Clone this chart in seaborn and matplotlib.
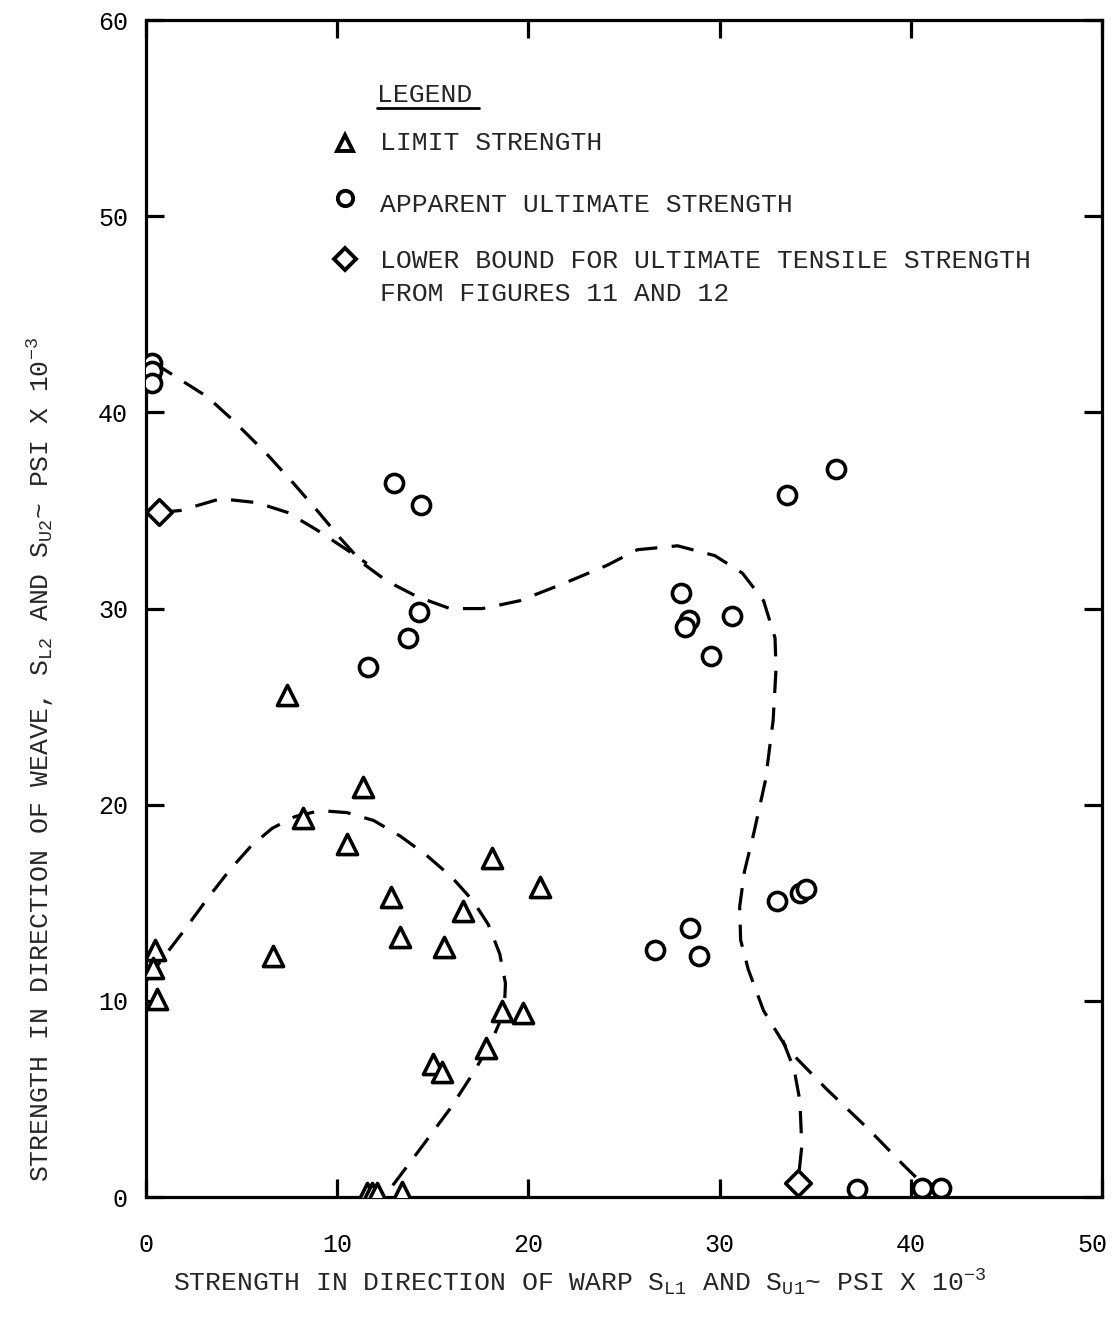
import numpy as np
import pandas as pd
import matplotlib
matplotlib.use("Agg")
import matplotlib.pyplot as plt
import matplotlib.transforms as mtransforms
import seaborn as sns

# ---- measured strengths (ksi) ----
limit_x = [7.4, 11.35, 8.2, 10.5, 18.1, 20.6, 12.8, 16.6, 13.3, 15.6, 6.65,
           0.45, 0.35, 0.6, 18.6, 19.7, 17.8, 15.0, 15.5, 11.55, 11.8, 12.1, 13.4]
limit_y = [25.6, 20.9, 19.3, 18.0, 17.3, 15.8, 15.3, 14.6, 13.25, 12.75, 12.3,
           12.6, 11.7, 10.1, 9.5, 9.4, 7.6, 6.8, 6.4, 0.2, 0.2, 0.2, 0.25]

ult_x = [0.3, 0.3, 0.3, 12.95, 14.4, 14.3, 13.7, 11.6, 33.5, 36.1, 28.0, 28.4,
         28.2, 30.65, 29.55, 26.6, 28.45, 28.9, 33.0, 34.2, 34.5, 37.2, 40.6, 41.6]
ult_y = [42.5, 42.1, 41.5, 36.4, 35.3, 29.8, 28.5, 27.0, 35.8, 37.1, 30.8, 29.4,
         29.05, 29.6, 27.6, 12.6, 13.7, 12.3, 15.1, 15.5, 15.7, 0.4, 0.45, 0.45]

bound_x = [0.7, 34.1]
bound_y = [34.9, 0.7]

# ---- faired envelope curves ----
inner_x = [0.05, 0.9, 2.0, 3.2, 4.4, 5.5, 6.6, 7.8, 9.1, 10.5, 11.9, 13.3, 14.7,
           16.0, 17.1, 17.9, 18.5, 18.8, 18.75, 18.45, 18.0, 17.1, 15.9, 14.3, 12.6]
inner_y = [11.06, 12.2, 13.6, 15.2, 16.7, 17.9, 18.8, 19.4, 19.7, 19.6, 19.2,
           18.4, 17.4, 16.3, 15.1, 13.9, 12.4, 10.9, 9.8, 8.8, 7.8, 6.3, 4.5, 2.4, 0.2]

outer_x = [0.37, 3.2, 4.55, 6.3, 7.7, 8.95, 10.15, 11.35, 12.6, 14.2, 15.9, 17.6,
           19.55, 21.9, 24.1, 25.7, 27.8, 29.75, 31.2, 32.3, 32.9, 32.95, 32.8,
           32.4, 31.8, 31.3, 31.05, 31.1, 31.5, 32.3, 33.5, 35.6, 37.8, 39.6, 40.7]
outer_y = [42.55, 40.8, 39.6, 37.9, 36.4, 35.0, 33.6, 32.3, 31.4, 30.6, 30.0, 30.0,
           30.4, 31.3, 32.2, 33.0, 33.2, 32.7, 31.8, 30.4, 28.5, 26.9, 24.3,
           21.25, 18.6, 16.6, 14.8, 13.1, 11.6, 9.5, 7.6, 5.5, 3.45, 1.65, 0.6]

branch_x = [33.3, 33.9, 34.2, 34.3, 34.15]
branch_y = [8.0, 6.5, 4.9, 2.6, 1.2]

upper_x = [0.7, 1.8, 3.9, 5.8, 7.4, 8.95, 10.5, 11.55]
upper_y = [34.9, 35.0, 35.6, 35.4, 34.9, 34.0, 33.0, 32.3]

x_ticks = [0, 10, 20, 30, 40, 50]
y_ticks = [0, 10, 20, 30, 40, 50, 60]

sns.set_theme(style="ticks")
mono = "Liberation Mono"
plt.rcParams["font.family"] = [mono, "DejaVu Sans"]
plt.rcParams["mathtext.fontset"] = "custom"
plt.rcParams["mathtext.rm"] = mono
plt.rcParams["mathtext.it"] = mono
plt.rcParams["mathtext.bf"] = mono

LW = 2.3
fig = plt.figure(figsize=(11.12, 13.39), dpi=100)
ax = fig.add_axes([0.1313, 0.106, 0.8597, 0.879])

dash = (0, (7, 4.5))
for cx, cy in [(inner_x, inner_y), (outer_x, outer_y),
               (branch_x, branch_y), (upper_x, upper_y)]:
    df = pd.DataFrame({"x": cx, "y": cy})
    sns.lineplot(data=df, x="x", y="y", sort=False, estimator=None, ax=ax,
                 color="black", lw=LW, linestyle=dash)

mk = dict(facecolor="white", edgecolor="black", linewidth=2.6, zorder=3)
sns.scatterplot(x=limit_x, y=limit_y, marker="^", s=210, ax=ax, **mk)
sns.scatterplot(x=ult_x, y=ult_y, marker="o", s=170, ax=ax, **mk)
sns.scatterplot(x=bound_x, y=bound_y, marker="D", s=170, ax=ax, **mk)

ax.set_xlim(0, 50)
ax.set_ylim(0, 60)
ax.set_xticks(x_ticks)
ax.set_yticks(y_ticks)
ax.set_xticklabels([str(v) for v in x_ticks])
ax.set_yticklabels([str(v) for v in y_ticks])
ax.tick_params(direction="in", length=13, width=LW, top=True, right=True,
               labelsize=18, colors="black")
ax.tick_params(axis="x", pad=26)
ax.tick_params(axis="y", pad=13)
for sp in ax.spines.values():
    sp.set_linewidth(LW)
    sp.set_color("black")

# keep the last x tick label inside the figure
last = ax.get_xticklabels()[-1]
last.set_transform(last.get_transform() +
                   mtransforms.ScaledTranslation(-0.10, 0, fig.dpi_scale_trans))

ax.set_xlabel(r"STRENGTH IN DIRECTION OF WARP S$_{\mathrm{L1}}$ AND S$_{\mathrm{U1}}$~ PSI X 10$^{-3}$",
              fontsize=19)
ax.xaxis.set_label_coords(0.454, -0.060)
ax.set_ylabel(r"STRENGTH IN DIRECTION OF WEAVE, S$_{\mathrm{L2}}$ AND S$_{\mathrm{U2}}$~ PSI X 10$^{-3}$",
              fontsize=19)
ax.yaxis.set_label_coords(-0.094, 0.372)

# key
tr = ax.transAxes
ax.text(0.242, 0.936, "LEGEND", transform=tr, fontsize=19, va="center", ha="left")
ax.plot([0.242, 0.348], [0.925, 0.925], transform=tr, color="black", lw=2.0)
ax.plot([0.208], [0.8955], transform=tr, marker="^", ms=12, mfc="white",
        mec="black", mew=2.8, clip_on=False)
ax.plot([0.208], [0.849], transform=tr, marker="o", ms=11, mfc="white",
        mec="black", mew=2.8, clip_on=False)
ax.plot([0.208], [0.797], transform=tr, marker="D", ms=11, mfc="white",
        mec="black", mew=2.8, clip_on=False)
ax.text(0.245, 0.8955, "LIMIT STRENGTH", transform=tr, fontsize=19, va="center")
ax.text(0.245, 0.843, "APPARENT ULTIMATE STRENGTH", transform=tr, fontsize=19, va="center")
ax.text(0.245, 0.795, "LOWER BOUND FOR ULTIMATE TENSILE STRENGTH", transform=tr,
        fontsize=19, va="center")
ax.text(0.245, 0.767, "FROM FIGURES 11 AND 12", transform=tr, fontsize=19, va="center")

fig.savefig("out.png", dpi=100, facecolor="white")
